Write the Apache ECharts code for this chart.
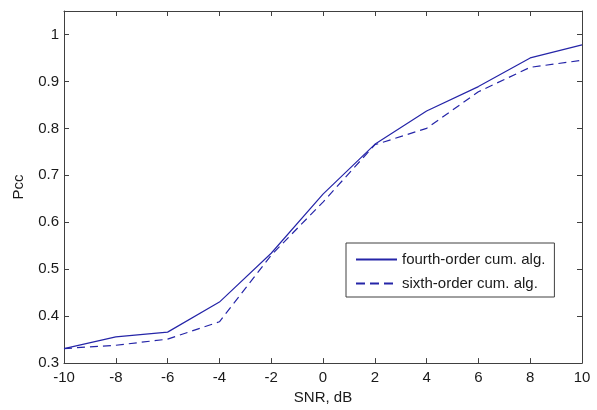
<!DOCTYPE html>
<html>
<head>
<meta charset="utf-8">
<script src="https://cdn.jsdelivr.net/npm/echarts@6/dist/echarts.min.js"></script>
<style>html,body{margin:0;padding:0;background:#fff}#c{width:597px;height:410px}</style>
</head>
<body>
<div id="c"></div>
<script>
const snr = [-10, -8, -6, -4, -2, 0, 2, 4, 6, 8, 10];
const fourthOrder = [0.331, 0.356, 0.366, 0.430, 0.534, 0.660, 0.766, 0.837, 0.889, 0.950, 0.978];
const sixthOrder  = [0.331, 0.338, 0.351, 0.388, 0.530, 0.643, 0.765, 0.800, 0.878, 0.930, 0.945];
const seriesNames = ['fourth-order cum. alg.', 'sixth-order cum. alg.'];
const xTicks = [-10, -8, -6, -4, -2, 0, 2, 4, 6, 8, 10];
const yTicks = [0.3, 0.4, 0.5, 0.6, 0.7, 0.8, 0.9, 1];

const font = "'Liberation Sans', Arial, sans-serif";
const axisColor = '#404040';
const textColor = '#1a1a1a';
const lineColor = '#2525a8';

const chart = echarts.init(document.getElementById('c'), null, {renderer: 'canvas'});
const fmtY = v => {
  const r = Math.round(v * 10) / 10;
  return yTicks.some(t => Math.abs(t - r) < 1e-9) && Math.abs(v - r) < 1e-6 ? String(r) : '';
};
const axisCommon = () => ({
  axisLine: {show: true, onZero: false, lineStyle: {color: axisColor, width: 1}},
  axisTick: {show: true, inside: true, length: 5, lineStyle: {color: axisColor}},
  splitLine: {show: false}
});
chart.setOption({
  animation: false,
  backgroundColor: '#fff',
  textStyle: {fontFamily: font},
  grid: {left: 64, right: 15, top: 11, bottom: 41, containLabel: false},
  legend: {
    orient: 'vertical',
    left: 346, top: 243,
    padding: [9, 9, 6, 9],
    itemWidth: 41, itemHeight: 12, itemGap: 9,
    borderColor: axisColor, borderWidth: 1,
    backgroundColor: '#fff',
    itemStyle: {opacity: 0, borderWidth: 0},
    textStyle: {fontFamily: font, fontSize: 15, color: textColor},
    data: [
      {name: seriesNames[0]},
      {name: seriesNames[1], lineStyle: {type: [9, 5]}}
    ]
  },
  xAxis: [
    Object.assign({
      type: 'value', min: xTicks[0], max: xTicks[xTicks.length - 1], interval: 2,
      position: 'bottom',
      name: 'SNR, dB', nameLocation: 'middle', nameGap: 26,
      nameTextStyle: {fontFamily: font, fontSize: 15, color: textColor},
      axisLabel: {margin: 7, fontFamily: font, fontSize: 15, color: textColor}
    }, axisCommon()),
    Object.assign({
      type: 'value', min: xTicks[0], max: xTicks[xTicks.length - 1], interval: 2,
      position: 'top', axisLabel: {show: false}
    }, axisCommon())
  ],
  yAxis: [
    Object.assign({
      type: 'value', min: 0.3, max: 1.05, interval: 0.1,
      position: 'left',
      name: 'Pcc', nameLocation: 'middle', nameGap: 38, nameRotate: 90,
      nameTextStyle: {fontFamily: font, fontSize: 15, color: textColor},
      axisLabel: {margin: 5, fontFamily: font, fontSize: 15, color: textColor, showMaxLabel: false, formatter: fmtY}
    }, axisCommon()),
    Object.assign({
      type: 'value', min: 0.3, max: 1.05, interval: 0.1,
      position: 'right', axisLabel: {show: false}
    }, axisCommon())
  ],
  series: [
    {
      name: seriesNames[0], type: 'line', xAxisIndex: 0, yAxisIndex: 0,
      data: snr.map((x, i) => [x, fourthOrder[i]]),
      symbol: 'none', showSymbol: false,
      lineStyle: {color: lineColor, width: 1.2, type: 'solid'},
      itemStyle: {color: lineColor}
    },
    {
      name: seriesNames[1], type: 'line', xAxisIndex: 0, yAxisIndex: 0,
      data: snr.map((x, i) => [x, sixthOrder[i]]),
      symbol: 'none', showSymbol: false,
      lineStyle: {color: lineColor, width: 1.2, type: [8, 5]},
      itemStyle: {color: lineColor}
    }
  ]
});
</script>
</body>
</html>
